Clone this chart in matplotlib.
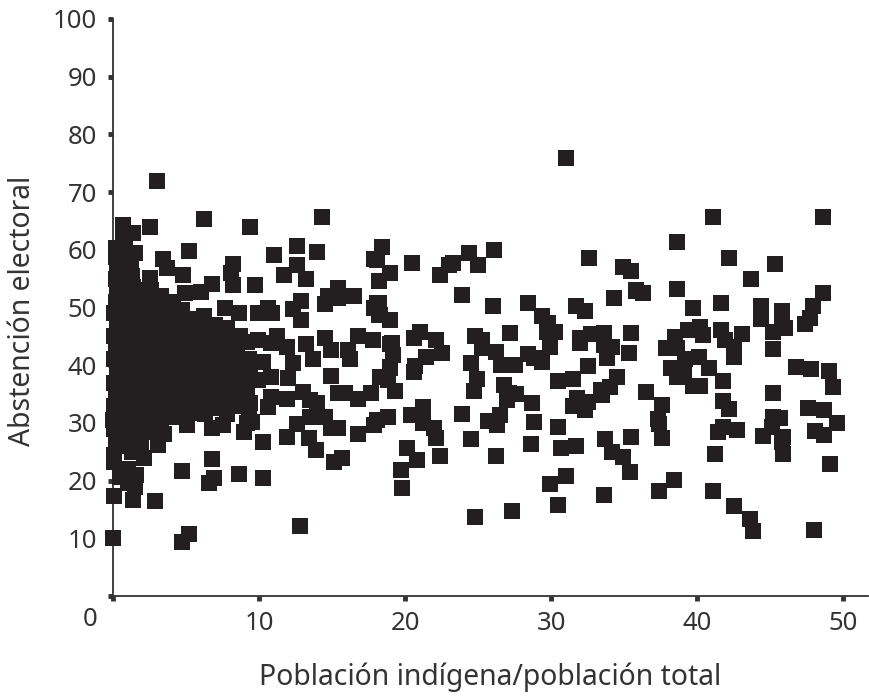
import matplotlib
matplotlib.use("Agg")
import matplotlib.pyplot as plt

plt.rcParams['font.family'] = ['Noto Sans', 'DejaVu Sans']

x_tick_labels = [10, 20, 30, 40, 50]
y_tick_labels = [10, 20, 30, 40, 50, 60, 70, 80, 90, 100]
x_title = "Población indígena/población total"
y_title = "Abstención electoral"

# (población indígena %, abstención %)
puntos_denso = [
    (0.1,24.5),(0.2,27),(0.1,29),(0.3,31.5),(0.1,33),(0.2,35),(0.1,37),(0.3,39),(0.1,41),(0.2,43),
    (0.1,45),(0.3,47),(0.1,49),(0.2,51),(0.3,53),(0.2,55),(0.3,57),(0.2,58.8),
    (0.7,26),(0.6,28),(0.8,30),(0.7,32.5),(0.6,34.5),(0.8,36.5),(0.7,38.5),(0.6,40.5),(0.8,42.5),
    (0.7,44.5),(0.6,46.5),(0.8,48.5),(0.7,50.5),(0.6,52.5),(0.8,54.5),(0.7,56.5),(0.6,58.5),(0.8,60.5),
    (1.3,25),(1.2,27.5),(1.4,29.5),(1.3,31.5),(1.2,33.5),(1.4,35.5),(1.3,37.5),(1.2,39.5),(1.4,41.5),
    (1.3,43.5),(1.2,45.5),(1.4,47.5),(1.3,49.5),(1.2,51.5),(1.4,53.5),(1.3,55.5),(1.2,57.5),
    (1.9,28),(2.0,30.5),(1.8,33),(1.9,35.5),(2.0,38),(1.8,40.5),(1.9,43),(2.0,45.5),(1.8,48),(1.9,50.5),(2.0,53),
    (2.6,31),(2.5,33.5),(2.7,36),(2.6,38.5),(2.5,41),(2.7,43.5),(2.6,46),(2.5,48.5),(2.7,51),(2.6,53),
    (3.3,29.5),(3.2,32),(3.4,34.5),(3.3,37),(3.2,39.5),(3.4,42),(3.3,44.5),(3.2,47),(3.4,49.5),(3.3,52),
    (4.0,31),(3.9,33.5),(4.1,36),(4.0,38.5),(3.9,41),(4.1,43.5),(4.0,46),(3.9,48.5),(4.1,51),
    (4.8,32),(4.7,34.5),(4.9,37),(4.8,39.5),(4.7,42),(4.9,44.5),(4.8,47),(4.7,49.5),(4.9,52.5),
    (5.5,33.5),(5.4,36),(5.6,38.5),(5.5,41),(5.4,43.5),(5.6,46),(5.5,48),
    (6.3,31.5),(6.2,34),(6.4,36.5),(6.3,39),(6.2,41.5),(6.4,44),(6.3,46.5),(6.2,48.5),
    (7.0,32.5),(6.9,35),(7.1,37.5),(7.0,40),(6.9,42.5),(7.1,45),(7.0,47),
    (7.8,31.5),(7.7,34),(7.9,36.5),(7.8,39),(7.7,41.5),(7.9,44),(7.8,46.5),(7.7,50),
    (8.6,33),(8.5,35.5),(8.7,38),(8.6,40.5),(8.5,43),(8.7,45),(8.6,49),
    (9.3,31.5),(9.2,36),(9.4,38.5),(9.3,41),(9.2,44),
    (1.9,26),(2.6,28.5),(3.5,28),(1.0,22),(1.6,21),(1.0,19.5),
]

puntos_izquierda = [
    (0.7,64.3),(2.5,64),(6.2,65.3),(9.4,64),(5.2,59.8),(1.4,62.9),(0.2,60.3),(1.5,59.4),(0.7,61.7),
    (3.4,58.4),(3.7,56.8),(4.8,55.6),(2.5,55.1),(8.2,57.5),(8.1,56),(6.8,54.1),(6,52.7),(8.2,53.9),
    (9.7,53.9),(3.0,71.9),(0,10),(5.2,10.7),(4.7,9.4),(2.9,16.5),(0.1,17.4),(1.4,16.6),(1.5,18.9),
    (0.5,20.6),(4.7,21.7),(6.8,23.7),(6.9,20.4),(6.6,19.6),(8.6,21.1),(3.1,26.2),(2.1,23.9),(0.1,23.2),
    (5.1,29.6),(6.8,29.1),(7.5,29.6),(9,28.4),(9.2,30),(5.5,31.7),(0,30.5),(9.5,30.2),(9.4,33.4),
]

puntos_centro = [
    (14.3,65.7),(11,59.1),(12.6,60.7),(14,59.6),(12.6,57.4),(11.7,55.6),(13.2,54.9),(15.4,53.4),
    (14.7,52),(14.5,50.6),(15.4,51.6),(16.5,52),(18.4,60.5),(17.9,58.4),(19,56),(18.2,54.6),
    (12.9,51.1),(12.3,49.7),(12.9,47.8),(18.2,50.8),(17.9,49.9),(18.2,48.7),(19,47.8),(10.6,50),
    (10.9,49),(9.9,49),(11.2,45),(9.9,44.4),(10.8,43.8),(11.9,43.2),(13.2,43.7),(14.5,44.7),
    (16.1,42.6),(16.8,45),(17.8,44.4),(19.1,43.8),(19.2,41.8),(19,39.7),(18.3,38),(19.3,35.5),
    (17.7,35.2),(16.8,34.1),(15.9,35.2),(15.4,35.2),(16.2,41.1),(14.9,42.6),(14.9,38.1),(13.7,41.1),
    (12.3,40.4),(10.3,40.6),(10.8,38),(12,37.8),(9.9,37.4),(10.6,32.8),(10.8,34.5),(11.9,34.1),
    (13,35.4),(13.5,34),(14,33.4),(14.5,31),(13.5,31),(12.6,29.8),(11.9,27.6),(14.9,29.1),(15.4,29.1),
    (16.8,28),(17.9,29.6),(18.8,31),(13.4,27.4),(13.9,25.3),(15.1,23.3),(15.7,23.9),(10.3,26.7),
    (10.3,20.4),(12.8,12.1),(9.7,53.9),
]

puntos_medio = [
    (31,75.9),(32.6,58.6),(34.9,57),(35.5,56.3),(20.5,57.7),(26.1,60),(24.4,59.4),(23.3,57.7),(23,57.4),
    (25,57.4),(22.4,55.6),(23.9,52.2),(26,50.3),(28.4,50.8),(29.4,48.5),(29.8,47.3),(29.7,45.8),
    (30.3,45.8),(29.9,43.2),(31.7,50.3),(32.3,49.4),(34.3,51.6),(35.8,53),(27.2,45.6),(24.8,45),
    (25.3,44.4),(25.3,43),(26.2,42.3),(26.6,40),(27.5,40),(28.4,41.9),(28.8,41.2),(29.4,40.6),
    (24.5,40.4),(24.9,37.6),(24.7,35.5),(26.8,36.6),(27.1,35.2),(27.6,35),(27,34),(28.7,33.4),
    (26.5,31.4),(25.7,30.3),(26.3,29.6),(23.9,31.5),(24.5,27.2),(26.2,24.3),(28.8,30.2),(28.6,26.3),
    (30.5,29.3),(30.7,25.6),(31.7,26),(31,20.8),(29.9,19.4),(30.5,15.8),(27.3,14.7),(24.8,13.7),
    (33.6,17.5),(33.7,27.2),(34.2,25),(34.9,24.1),(35.4,21.5),(35.5,27.6),(30.5,37.3),(31.5,37.6),
    (32.5,39.9),(32,44.7),(32,43.8),(32.7,45.4),(33.6,45.6),(33.6,43.5),(34.2,43.2),(33.8,41.2),
    (35.3,42.1),(35.5,45.6),(34.5,38),(34,36.2),(33.4,35.7),(33.5,34.8),(31.8,34.3),(31.5,32.9),
    (32.3,32.2),(32.5,33.6),(18.1,58.2),(18.1,50.8),(18.3,48.7),(19,43.7),(19.2,41.8),(19,39.5),
    (18.8,37.4),(21,45.8),(20.6,44.7),(22.1,44.4),(22.5,42.1),(21.4,41.4),(20.7,39.9),(20.6,38.8),
    (21.2,32.8),(20.4,31.4),(21.2,30),(22,29.1),(22.1,27.4),(20.1,25.6),(20.8,23.6),(19.7,21.8),
    (19.8,18.7),(22.4,24.3),(18.8,31),(18.1,30.5),
]

puntos_derecha = [
    (41.1,65.7),(48.6,65.7),(38.6,61.4),(42.2,58.6),(45.3,57.5),(43.7,54.9),(38.6,53.2),(41.6,50.8),
    (39.7,49.9),(48.6,52.5),(47.9,50.3),(47.7,48.2),(47.4,47.1),(44.4,50.3),(44.4,48),(45.8,49.4),
    (45.8,48.2),(46,46.4),(45.2,45.8),(45.2,42.8),(35.8,52.9),(36.3,52.5),(40.2,46.6),(39.4,46.1),
    (38.5,44.9),(37.9,43),(38.6,43),(41.6,46.1),(40.4,45.2),(41.9,44.4),(43.1,45.4),(42.5,41.4),
    (42.5,43.2),(39.2,41.1),(40.1,41.4),(38.2,39.5),(39.1,39.2),(40.8,39.5),(38.6,38),(39.7,36.4),
    (40.2,36.4),(41.8,37.3),(36.5,35.4),(37.6,33.1),(37.3,30.7),(37.4,29.8),(37.6,27.4),(41.8,33.8),
    (42.2,32.4),(41.8,29.3),(41.4,28.4),(42.7,28.8),(41.2,24.6),(45.2,35.2),(46.8,39.7),(47.8,39.3),
    (49,39),(49.3,36.2),(45.2,31),(45.7,30.8),(45.1,29.3),(44.5,27.7),(45.9,27.6),(45.8,26.7),
    (45.9,24.6),(47.6,32.6),(48.7,32.2),(49.6,30),(48.1,28.6),(48.7,27.9),(49.1,22.9),(48,11.4),
    (41.1,18.2),(42.5,15.6),(43.6,13.3),(43.8,11.3),(38.4,20.1),(37.4,18.2),
]

W, H = 869, 697
INK = "#231f20"
TXT = "#333333"
fig = plt.figure(figsize=(W / 100, H / 100), dpi=100, facecolor="white")
ax = fig.add_axes([113 / W, 1 - 596 / H, (868 - 113) / W, (596 - 19) / H])

todos = puntos_denso + puntos_izquierda + puntos_centro + puntos_medio + puntos_derecha
ax.scatter([p[0] for p in todos], [p[1] for p in todos], marker="s", s=145,
           color=INK, linewidths=0, clip_on=False, zorder=3)

ax.set_xlim(0, 51.7)
ax.set_ylim(0, 100)
for s in ("top", "right"):
    ax.spines[s].set_visible(False)
for s in ("left", "bottom"):
    ax.spines[s].set_linewidth(1.3)
    ax.spines[s].set_color(TXT)

ax.set_xticks([0] + x_tick_labels)
ax.set_xticklabels([""] + [str(v) for v in x_tick_labels])
ax.set_yticks([0] + y_tick_labels)
ax.set_yticklabels([""] + [str(v) for v in y_tick_labels])
ax.tick_params(axis="both", direction="out", length=3.5, width=3.5, color=TXT,
               labelsize=18.5, labelcolor=TXT)
ax.tick_params(axis="y", pad=8)
ax.tick_params(axis="x", pad=7)

fig.text(90 / W, 1 - 620 / H, "0", fontsize=18.5, color=TXT, ha="center", va="center")
fig.text(490 / W, 1 - 677 / H, x_title, fontsize=20.4, color=TXT, ha="center", va="center")
fig.text(23 / W, 1 - 311 / H, y_title, fontsize=20.4, color=TXT, ha="center", va="center", rotation=90)

fig.savefig("out.png", dpi=100)
